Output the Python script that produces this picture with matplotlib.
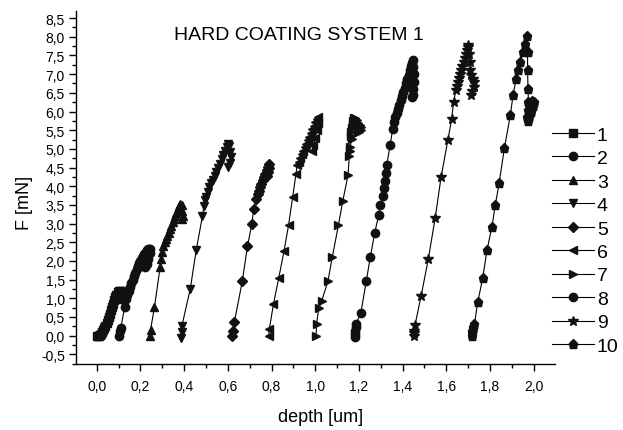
import matplotlib
matplotlib.use("Agg")
import matplotlib.pyplot as plt
from matplotlib.ticker import MultipleLocator, FuncFormatter

plt.rcParams['font.family'] = ['Liberation Sans', 'DejaVu Sans']

# depth [um] / F [mN], one pair of lists per curve
depth_1 = [0.000, 0.005, 0.010, 0.015, 0.020, 0.025, 0.030, 0.035, 0.040, 0.045, 0.050, 0.055,
           0.060, 0.065, 0.070, 0.075, 0.080, 0.085, 0.090, 0.095, 0.100, 0.105, 0.110, 0.112, 0.110]
force_1 = [0.00, 0.00, 0.00, 0.02, 0.05, 0.09, 0.14, 0.20, 0.27, 0.34, 0.42, 0.50,
           0.59, 0.68, 0.77, 0.86, 0.95, 1.03, 1.10, 1.16, 1.19, 1.19, 1.19, 1.08, 0.98]

depth_2 = [0.103, 0.105, 0.110, 0.128, 0.134, 0.140, 0.146, 0.152, 0.158, 0.164, 0.170, 0.176, 0.182, 0.188,
           0.194, 0.200, 0.206, 0.212, 0.218, 0.224, 0.230, 0.236, 0.241, 0.244, 0.242, 0.236, 0.228, 0.222]
force_2 = [-0.02, 0.12, 0.20, 0.78, 0.98, 1.10, 1.20, 1.30, 1.40, 1.50, 1.60, 1.69, 1.78, 1.86,
           1.94, 2.01, 2.08, 2.14, 2.19, 2.24, 2.28, 2.31, 2.33, 2.32, 2.20, 2.05, 1.93, 1.85]

depth_3 = [0.244, 0.246, 0.264, 0.290, 0.294, 0.299, 0.305, 0.311, 0.317, 0.323, 0.329, 0.335, 0.341,
           0.347, 0.353, 0.359, 0.365, 0.371, 0.377, 0.382, 0.388, 0.392, 0.394, 0.392]
force_3 = [0.00, 0.15, 0.76, 1.83, 2.06, 2.25, 2.41, 2.50, 2.59, 2.67, 2.76, 2.85, 2.94,
           3.03, 3.12, 3.20, 3.29, 3.38, 3.47, 3.53, 3.50, 3.35, 3.20, 3.12]

depth_4 = [0.386, 0.388, 0.390, 0.428, 0.455, 0.484, 0.490, 0.494, 0.500, 0.508, 0.516, 0.524, 0.532,
           0.540, 0.548, 0.556, 0.564, 0.572, 0.580, 0.588, 0.596, 0.602, 0.606, 0.610, 0.613, 0.609, 0.603]
force_4 = [-0.05, 0.10, 0.27, 1.25, 2.28, 3.21, 3.46, 3.62, 3.72, 3.85, 3.97, 4.08, 4.18,
           4.28, 4.38, 4.48, 4.60, 4.72, 4.84, 4.95, 5.05, 5.13, 5.08, 4.92, 4.78, 4.62, 4.52]

depth_5 = [0.620, 0.624, 0.630, 0.666, 0.690, 0.710, 0.718, 0.729, 0.736, 0.742, 0.748, 0.754, 0.760,
           0.766, 0.772, 0.778, 0.784, 0.789, 0.790, 0.786, 0.780]
force_5 = [0.00, 0.12, 0.37, 1.45, 2.40, 2.99, 3.38, 3.66, 3.78, 3.88, 3.98, 4.07, 4.16,
           4.25, 4.34, 4.43, 4.52, 4.59, 4.50, 4.38, 4.28]

depth_6 = [0.787, 0.790, 0.809, 0.833, 0.857, 0.878, 0.897, 0.912, 0.917, 0.924, 0.931, 0.938, 0.945,
           0.952, 0.959, 0.966, 0.973, 0.980, 0.987, 0.994, 1.001, 1.008, 1.012, 1.013, 1.008, 1.000,
           0.992, 0.985]
force_6 = [0.00, 0.18, 0.85, 1.54, 2.26, 2.96, 3.72, 4.33, 4.56, 4.66, 4.76, 4.85, 4.95,
           5.04, 5.14, 5.23, 5.33, 5.42, 5.52, 5.61, 5.71, 5.80, 5.86, 5.70, 5.50, 5.30,
           5.10, 4.95]

depth_7 = [1.004, 1.006, 1.016, 1.030, 1.058, 1.078, 1.106, 1.126, 1.150, 1.156, 1.158, 1.160, 1.167,
           1.162, 1.165, 1.168, 1.171, 1.174, 1.177, 1.182, 1.190, 1.198, 1.205, 1.210, 1.208, 1.200, 1.195]
force_7 = [0.00, 0.31, 0.73, 0.94, 1.45, 2.10, 2.95, 3.60, 4.29, 4.80, 4.95, 5.05, 5.27,
           5.35, 5.45, 5.55, 5.65, 5.75, 5.83, 5.82, 5.76, 5.70, 5.64, 5.58, 5.50, 5.45, 5.48]

depth_8 = [1.183, 1.183, 1.184, 1.185, 1.186, 1.209, 1.234, 1.252, 1.272, 1.290, 1.297, 1.310, 1.315,
           1.320, 1.325, 1.328, 1.343, 1.355, 1.361, 1.367, 1.373, 1.379, 1.385, 1.391, 1.397, 1.403,
           1.409, 1.415, 1.421, 1.427, 1.433, 1.439, 1.444, 1.447, 1.449, 1.450, 1.450, 1.448, 1.447, 1.445]
force_8 = [-0.03, 0.05, 0.13, 0.22, 0.31, 0.61, 1.47, 2.10, 2.74, 3.22, 3.49, 3.75, 3.95,
           4.15, 4.35, 4.58, 5.11, 5.54, 5.72, 5.84, 5.95, 6.07, 6.18, 6.30, 6.41, 6.53,
           6.64, 6.76, 6.87, 6.99, 7.10, 7.22, 7.31, 7.37, 7.20, 7.00, 6.79, 6.60, 6.43, 6.38]

depth_9 = [1.450, 1.451, 1.453, 1.457, 1.485, 1.518, 1.549, 1.576, 1.607, 1.625, 1.633, 1.644, 1.649,
           1.654, 1.659, 1.664, 1.669, 1.674, 1.679, 1.684, 1.689, 1.694, 1.699, 1.701, 1.705, 1.710,
           1.708, 1.712, 1.722, 1.728, 1.725, 1.718, 1.713]
force_9 = [0.00, 0.07, 0.13, 0.29, 1.07, 2.06, 3.15, 4.24, 5.23, 5.81, 6.25, 6.57, 6.68,
           6.78, 6.89, 7.00, 7.10, 7.21, 7.32, 7.42, 7.53, 7.64, 7.74, 7.78, 7.55, 7.33,
           7.10, 6.98, 6.88, 6.78, 6.65, 6.55, 6.45]

depth_10 = [1.717, 1.717, 1.718, 1.720, 1.722, 1.729, 1.744, 1.767, 1.786, 1.809, 1.824, 1.842, 1.866,
            1.893, 1.906, 1.920, 1.929, 1.938, 1.953, 1.962, 1.971, 1.972, 1.972, 1.974, 1.976, 1.972,
            1.970, 1.972, 1.980, 1.988, 1.995, 2.000, 1.992, 1.982]
force_10 = [0.00, 0.06, 0.12, 0.18, 0.24, 0.31, 0.90, 1.55, 2.28, 2.92, 3.49, 4.09, 5.02,
            5.90, 6.45, 6.88, 7.12, 7.32, 7.59, 7.81, 8.02, 7.60, 7.10, 6.60, 6.25, 6.05,
            5.85, 5.75, 5.85, 6.00, 6.15, 6.25, 6.28, 6.22]

curves = [(depth_1, force_1), (depth_2, force_2), (depth_3, force_3), (depth_4, force_4),
          (depth_5, force_5), (depth_6, force_6), (depth_7, force_7), (depth_8, force_8),
          (depth_9, force_9), (depth_10, force_10)]
labels = ['1', '2', '3', '4', '5', '6', '7', '8', '9', '10']
markers = ['s', 'o', '^', 'v', 'D', '<', '>', 'o', '*', 'p']
sizes = [5.5, 6, 6, 6, 5, 6, 6, 6, 7.5, 6.5]

fig = plt.figure(figsize=(6.23, 4.31), dpi=100)
ax = fig.add_axes([0.122, 0.153, 0.769, 0.820])

for (d, f), lab, m, s in zip(curves, labels, markers, sizes):
    ax.plot(d, f, color='black', lw=0.8, marker=m, ms=s, mfc='#111111', mec='#111111', label=lab)

ax.set_xlim(-0.095, 2.098)
ax.set_ylim(-0.76, 8.70)

ax.spines['top'].set_visible(False)
ax.spines['right'].set_visible(False)
for sp in ['left', 'bottom']:
    ax.spines[sp].set_linewidth(1.0)

comma = FuncFormatter(lambda v, p: f"{v:.1f}".replace('.', ','))
ax.xaxis.set_major_locator(MultipleLocator(0.2))
ax.xaxis.set_minor_locator(MultipleLocator(0.1))
ax.yaxis.set_major_locator(MultipleLocator(0.5))
ax.yaxis.set_minor_locator(MultipleLocator(0.25))
ax.xaxis.set_major_formatter(comma)
ax.yaxis.set_major_formatter(comma)
ax.tick_params(which='major', direction='out', length=5, width=1, labelsize=10)
ax.tick_params(which='minor', direction='out', length=3, width=1)
ax.tick_params(axis='x', which='major', pad=6)
ax.tick_params(axis='y', which='major', pad=3)

ax.set_xlabel('depth [um]', fontsize=13)
ax.set_ylabel('F [mN]', fontsize=13)
ax.xaxis.set_label_coords(0.511, -0.125)
ax.yaxis.set_label_coords(-0.09, 0.458)

fig.text(299 / 623, 1 - 35.5 / 431, 'HARD COATING SYSTEM 1', fontsize=14,
         ha='center', va='center')

ax.legend(loc='upper left', bbox_to_anchor=(0.886, 0.705), bbox_transform=fig.transFigure,
          frameon=False, fontsize=14, handlelength=2.16, handletextpad=0.15,
          labelspacing=0.3, borderpad=0, borderaxespad=0, markerscale=1.0)

fig.savefig('out.png', dpi=100)
